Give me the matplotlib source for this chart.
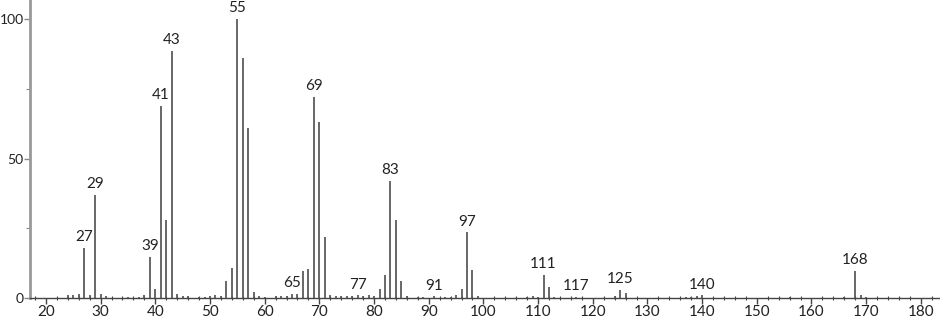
import matplotlib
matplotlib.use("Agg")
from matplotlib import pyplot as plt
from matplotlib.ticker import MultipleLocator

# m/z and relative intensity
mz = [24, 25, 26, 27, 28, 29, 30, 31, 35, 37, 38, 39, 40, 41, 42, 43, 44, 45, 46,
      48, 49, 50, 51, 52, 53, 54, 55, 56, 57, 58, 59, 60, 62, 63, 64, 65, 66,
      67, 68, 69, 70, 71, 72, 73, 74, 75, 76, 77, 78, 79, 80, 81, 82, 83, 84,
      85, 86, 88, 89, 91, 93, 94, 95, 96, 97, 98, 99, 108, 109, 110, 111, 112,
      113, 117, 124, 125, 126, 137, 138, 139, 140, 156, 166, 168, 169, 170]
intensity = [1.0, 1.0, 1.5, 18.1, 1.0, 37.0, 1.5, 0.7, 0.5, 0.5, 1.0, 14.8, 3.2,
             68.9, 28.0, 88.5, 1.5, 0.7, 0.7, 0.5, 0.5, 0.7, 1.0, 0.7, 6.3, 11.0,
             100.0, 85.9, 61.0, 2.3, 0.7, 0.5, 0.7, 0.7, 0.7, 1.5, 1.5, 9.8,
             10.6, 72.2, 63.1, 21.9, 1.0, 0.7, 0.7, 0.7, 0.7, 1.0, 0.7, 1.0,
             0.7, 3.2, 8.5, 42.0, 28.0, 6.1, 0.7, 0.5, 0.5, 0.7, 0.5, 0.5, 1.0,
             3.3, 23.6, 10.1, 0.8, 0.5, 0.7, 0.5, 8.3, 4.2, 0.5, 0.5, 0.7, 3.0,
             2.0, 0.5, 0.5, 0.7, 1.0, 0.5, 0.5, 9.9, 1.0, 0.5]

labelled = [27, 29, 39, 41, 43, 55, 65, 69, 77, 83, 91, 97, 111, 117, 125, 140, 168]

fig = plt.figure(figsize=(9.4, 3.2), dpi=100)
ax = fig.add_axes([0.032, 0.068, 0.968, 0.932])

ax.vlines(mz, 0, intensity, color='#5c5c5c', linewidth=1.3)

peak = dict(zip(mz, intensity))
for m in labelled:
    ax.text(m, peak[m] + 1.3, str(m), ha='center', va='bottom',
            fontsize=11, family='Lato', color='#222222')

ax.set_xlim(17.1, 183.5)
ax.set_ylim(0, 106.8)

ax.xaxis.set_minor_locator(MultipleLocator(2))
ax.yaxis.set_major_locator(MultipleLocator(50))
ax.yaxis.set_minor_locator(MultipleLocator(25))
ax.set_xticks(range(20, 181, 10))

ax.tick_params(axis='x', which='major', direction='out', length=4, width=1,
               color='#444444', labelsize=11, pad=1)
ax.tick_params(axis='x', which='minor', direction='inout', length=3, width=0.8,
               color='#444444')
ax.tick_params(axis='y', which='major', direction='out', length=4, width=1,
               color='#888888', labelsize=10, pad=0.5)
ax.tick_params(axis='y', which='minor', direction='out', length=3, width=0.8,
               color='#888888')
for lab in ax.get_xticklabels() + ax.get_yticklabels():
    lab.set_family('Lato')
    lab.set_color('#222222')

for side in ['top', 'right']:
    ax.spines[side].set_visible(False)
ax.spines['left'].set_color('#999999')
ax.spines['left'].set_linewidth(2)
ax.spines['bottom'].set_color('#444444')
ax.spines['bottom'].set_linewidth(1)

fig.savefig('out.png', dpi=100)
